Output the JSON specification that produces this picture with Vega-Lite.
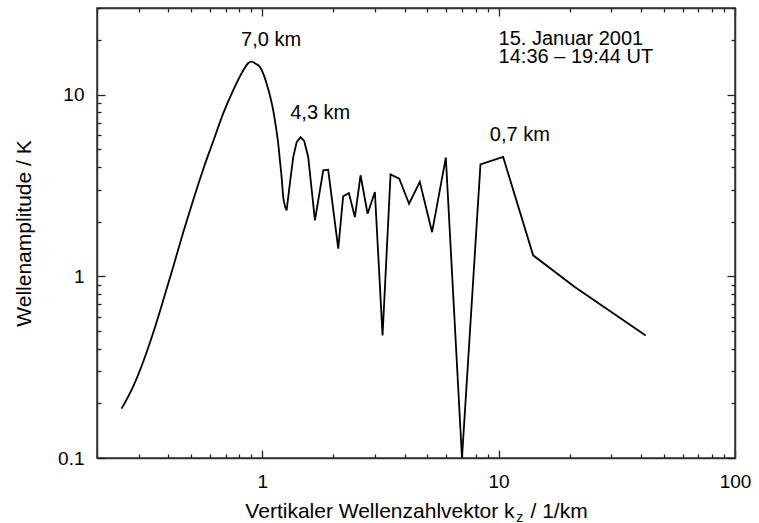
{
  "$schema": "https://vega.github.io/schema/vega-lite/v6.json",
  "width": 638,
  "height": 450,
  "autosize": {"type": "none"},
  "padding": {"left": 97, "top": 8, "right": 24, "bottom": 65},
  "background": "white",
  "config": {
    "view": {"stroke": "#333", "strokeWidth": 1.5},
    "font": "Liberation Sans",
    "axis": {
      "domainColor": "#333", "domainWidth": 1.5,
      "tickColor": "#222", "tickWidth": 1.3,
      "labelColor": "black", "titleColor": "black",
      "labelFont": "Liberation Sans", "titleFont": "Liberation Sans",
      "labelFontSize": 19, "titleFontSize": 21, "titleFontWeight": "normal",
      "grid": false, "labelOverlap": false, "labelFlush": false
    }
  },
  "datasets": {
    "spectrum": [
      {"kz": 0.254, "amp": 0.187}, {"kz": 0.285, "amp": 0.249}, {"kz": 0.314, "amp": 0.34},
      {"kz": 0.346, "amp": 0.491}, {"kz": 0.381, "amp": 0.736}, {"kz": 0.42, "amp": 1.127},
      {"kz": 0.463, "amp": 1.742}, {"kz": 0.511, "amp": 2.64}, {"kz": 0.563, "amp": 3.89},
      {"kz": 0.621, "amp": 5.56}, {"kz": 0.684, "amp": 7.89}, {"kz": 0.754, "amp": 10.6},
      {"kz": 0.831, "amp": 13.6}, {"kz": 0.872, "amp": 14.9}, {"kz": 0.902, "amp": 15.2},
      {"kz": 0.938, "amp": 14.8}, {"kz": 0.978, "amp": 14.2}, {"kz": 1.01, "amp": 13.05},
      {"kz": 1.044, "amp": 11.5}, {"kz": 1.078, "amp": 9.9}, {"kz": 1.113, "amp": 8.2},
      {"kz": 1.143, "amp": 6.63}, {"kz": 1.169, "amp": 5.37}, {"kz": 1.188, "amp": 4.35},
      {"kz": 1.208, "amp": 3.52}, {"kz": 1.227, "amp": 2.73}, {"kz": 1.268, "amp": 2.31},
      {"kz": 1.309, "amp": 3.24}, {"kz": 1.353, "amp": 4.54}, {"kz": 1.399, "amp": 5.48},
      {"kz": 1.453, "amp": 5.84}, {"kz": 1.505, "amp": 5.56}, {"kz": 1.565, "amp": 4.54},
      {"kz": 1.671, "amp": 2.03}, {"kz": 1.812, "amp": 3.83}, {"kz": 1.901, "amp": 3.86},
      {"kz": 2.097, "amp": 1.42}, {"kz": 2.2, "amp": 2.76}, {"kz": 2.326, "amp": 2.87},
      {"kz": 2.466, "amp": 2.12}, {"kz": 2.606, "amp": 3.6}, {"kz": 2.791, "amp": 2.21},
      {"kz": 2.996, "amp": 2.91}, {"kz": 3.229, "amp": 0.473}, {"kz": 3.49, "amp": 3.64},
      {"kz": 3.8, "amp": 3.45}, {"kz": 4.18, "amp": 2.51}, {"kz": 4.64, "amp": 3.31},
      {"kz": 5.23, "amp": 1.75}, {"kz": 5.98, "amp": 4.5}, {"kz": 7.0, "amp": 0.1},
      {"kz": 8.38, "amp": 4.13}, {"kz": 10.45, "amp": 4.54}, {"kz": 14.0, "amp": 1.305},
      {"kz": 21.0, "amp": 0.873}, {"kz": 41.9, "amp": 0.473}
    ],
    "peaks": [
      {"label": "7,0 km", "kz": 1.09, "amp": 19.9},
      {"label": "4,3 km", "kz": 1.76, "amp": 7.94},
      {"label": "0,7 km", "kz": 12.29, "amp": 5.97}
    ],
    "info": [
      {"label": "15. Januar 2001", "kz": 10, "amp": 20.3},
      {"label": "14:36 – 19:44 UT", "kz": 10, "amp": 16.1}
    ],
    "sub": [
      {"label": "z", "kz": 11.86, "amp": 0.0443}
    ]
  },
  "layer": [
    {
      "data": {"name": "spectrum"},
      "transform": [{"filter": "datum.kz <= 1.27"}],
      "mark": {"type": "line", "color": "black", "strokeWidth": 1.8, "clip": true, "interpolate": "monotone"},
      "encoding": {
        "x": {
          "field": "kz", "type": "quantitative",
          "scale": {"type": "log", "domain": [0.2, 100], "nice": false},
          "axis": {
            "orient": "bottom",
            "values": [0.2, 0.3, 0.4, 0.5, 0.6, 0.7, 0.8, 0.9, 1, 2, 3, 4, 5, 6, 7, 8, 9, 10, 20, 30, 40, 50, 60, 70, 80, 90, 100],
            "format": "~g",
            "labelExpr": "indexof([1, 10, 100], datum.value) >= 0 ? datum.label : ''",
            "tickSize": {"condition": {"test": "indexof([1, 10, 100], datum.value) >= 0", "value": -8}, "value": -4},
            "labelPadding": 22,
            "title": "Vertikaler Wellenzahlvektor k\u00a0\u00a0\u2009/ 1/km",
            "titleY": 59,
            "titleBaseline": "alphabetic"
          }
        },
        "y": {
          "field": "amp", "type": "quantitative",
          "scale": {"type": "log", "domain": [0.1, 30], "nice": false},
          "axis": {
            "orient": "left",
            "values": [0.1, 0.2, 0.3, 0.4, 0.5, 0.6, 0.7, 0.8, 0.9, 1, 2, 3, 4, 5, 6, 7, 8, 9, 10, 20, 30],
            "format": "~g",
            "labelExpr": "indexof([0.1, 1, 10], datum.value) >= 0 ? datum.label : ''",
            "tickSize": {"condition": {"test": "indexof([0.1, 1, 10], datum.value) >= 0", "value": -8}, "value": -4},
            "labelPadding": 21,
            "title": "Wellenamplitude / K",
            "titleAngle": -90,
            "titleX": -73,
            "titleY": 225,
            "titleAlign": "center",
            "titleBaseline": "middle"
          }
        }
      }
    },
    {
      "data": {"name": "spectrum"},
      "transform": [{"filter": "datum.kz >= 1.268"}],
      "mark": {"type": "line", "color": "black", "strokeWidth": 1.8, "clip": true},
      "encoding": {
        "x": {
          "field": "kz", "type": "quantitative",
          "scale": {"type": "log", "domain": [0.2, 100], "nice": false},
          "axis": {
            "orient": "top",
            "values": [0.2, 0.3, 0.4, 0.5, 0.6, 0.7, 0.8, 0.9, 1, 2, 3, 4, 5, 6, 7, 8, 9, 10, 20, 30, 40, 50, 60, 70, 80, 90, 100],
            "labels": false, "title": null,
            "tickSize": {"condition": {"test": "indexof([1, 10, 100], datum.value) >= 0", "value": -8}, "value": -4}
          }
        },
        "y": {
          "field": "amp", "type": "quantitative",
          "scale": {"type": "log", "domain": [0.1, 30], "nice": false},
          "axis": {
            "orient": "right",
            "values": [0.1, 0.2, 0.3, 0.4, 0.5, 0.6, 0.7, 0.8, 0.9, 1, 2, 3, 4, 5, 6, 7, 8, 9, 10, 20, 30],
            "labels": false, "title": null,
            "tickSize": {"condition": {"test": "indexof([0.1, 1, 10], datum.value) >= 0", "value": -8}, "value": -4}
          }
        }
      }
    },
    {
      "data": {"name": "peaks"},
      "mark": {"type": "text", "fontSize": 20, "align": "center", "baseline": "middle", "color": "black"},
      "encoding": {
        "x": {"field": "kz", "type": "quantitative", "scale": {"type": "log", "domain": [0.2, 100], "nice": false}, "axis": null},
        "y": {"field": "amp", "type": "quantitative", "scale": {"type": "log", "domain": [0.1, 30], "nice": false}, "axis": null},
        "text": {"field": "label"}
      }
    },
    {
      "data": {"name": "info"},
      "mark": {"type": "text", "fontSize": 20, "align": "left", "baseline": "middle", "color": "black"},
      "encoding": {
        "x": {"field": "kz", "type": "quantitative", "scale": {"type": "log", "domain": [0.2, 100], "nice": false}, "axis": null},
        "y": {"field": "amp", "type": "quantitative", "scale": {"type": "log", "domain": [0.1, 30], "nice": false}, "axis": null},
        "text": {"field": "label"}
      }
    },
    {
      "data": {"name": "sub"},
      "mark": {"type": "text", "fontSize": 14, "align": "left", "baseline": "alphabetic", "color": "black"},
      "encoding": {
        "x": {"field": "kz", "type": "quantitative", "scale": {"type": "log", "domain": [0.2, 100], "nice": false}, "axis": null},
        "y": {"field": "amp", "type": "quantitative", "scale": {"type": "log", "domain": [0.1, 30], "nice": false}, "axis": null},
        "text": {"field": "label"}
      }
    }
  ],
  "resolve": {"axis": {"x": "independent", "y": "independent"}}
}
